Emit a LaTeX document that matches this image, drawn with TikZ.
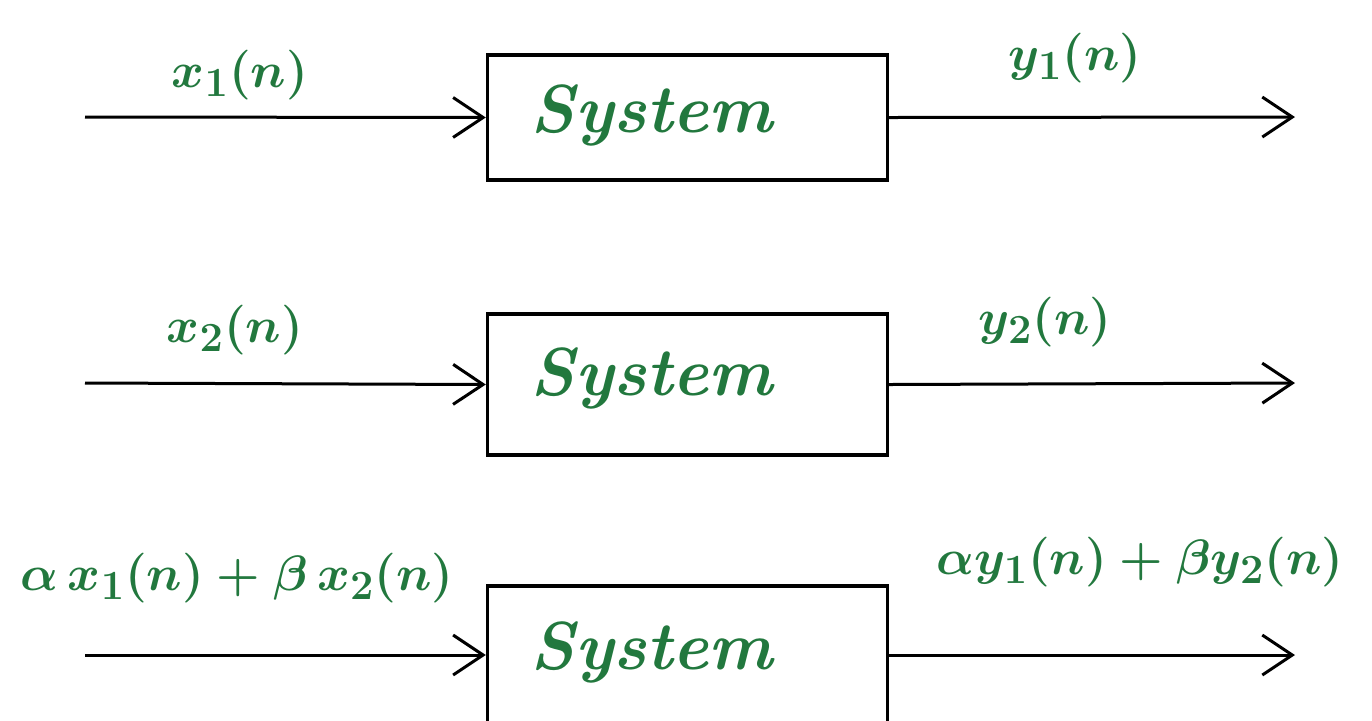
\documentclass[tikz,border=0pt]{standalone}
\usetikzlibrary{arrows.meta}
\definecolor{ink}{RGB}{34,120,62}
\begin{document}
\begin{tikzpicture}[x=0.5pt,y=-0.5pt,
  sysbox/.style={draw=black,line width=1.7pt,minimum width=200pt,inner sep=0pt},
  sig/.style={draw=black,line width=1.5pt,-{Straight Barb[length=15pt,width=20pt,line width=1.5pt]}},
  lbl/.style={text=ink,font=\fontsize{32}{38}\selectfont\boldmath},
  systxt/.style={text=ink,font=\fontsize{34}{40}\selectfont\bfseries\itshape}]
\useasboundingbox (0,0) rectangle (1372,720);
\clip (0,0) rectangle (1372,720);
% row 1
\node[sysbox,minimum height=62.5pt] (b1) at (687.5,117.5) {};
\node[systxt] (t1) at (652,115) {System};
\coordinate (i1) at (85,117);
\coordinate (o1) at (1295,117);
\draw[sig] (i1) -- (b1.west);
\draw[sig] (b1.east) -- (o1);
\node[lbl] (x1) at (240,75) {$x_1(n)$};
\node[lbl] (y1) at (1075,58) {$y_1(n)$};
% row 2
\node[sysbox,minimum height=70.5pt] (b2) at (687.5,384.5) {};
\node[systxt] (t2) at (652,378) {System};
\coordinate (i2) at (85,383);
\coordinate (o2) at (1295,383);
\draw[sig] (i2) -- (b2.west);
\draw[sig] (b2.east) -- (o2);
\node[lbl] (x2) at (235,330) {$x_2(n)$};
\node[lbl] (y2) at (1045,322) {$y_2(n)$};
% row 3
\node[sysbox,minimum height=75pt] (b3) at (687.5,661) {};
\node[systxt] (t3) at (652,652) {System};
\coordinate (i3) at (85,655);
\coordinate (o3) at (1295,655);
\draw[sig] (i3) -- (b3.west |- i3);
\draw[sig] (b3.east |- o3) -- (o3);
\node[lbl] (x3) at (237,578) {$\alpha\, x_1(n)+\beta\, x_2(n)$};
\node[lbl] (y3) at (1140,562) {$\alpha y_1(n)+\beta y_2(n)$};
\end{tikzpicture}
\end{document}
